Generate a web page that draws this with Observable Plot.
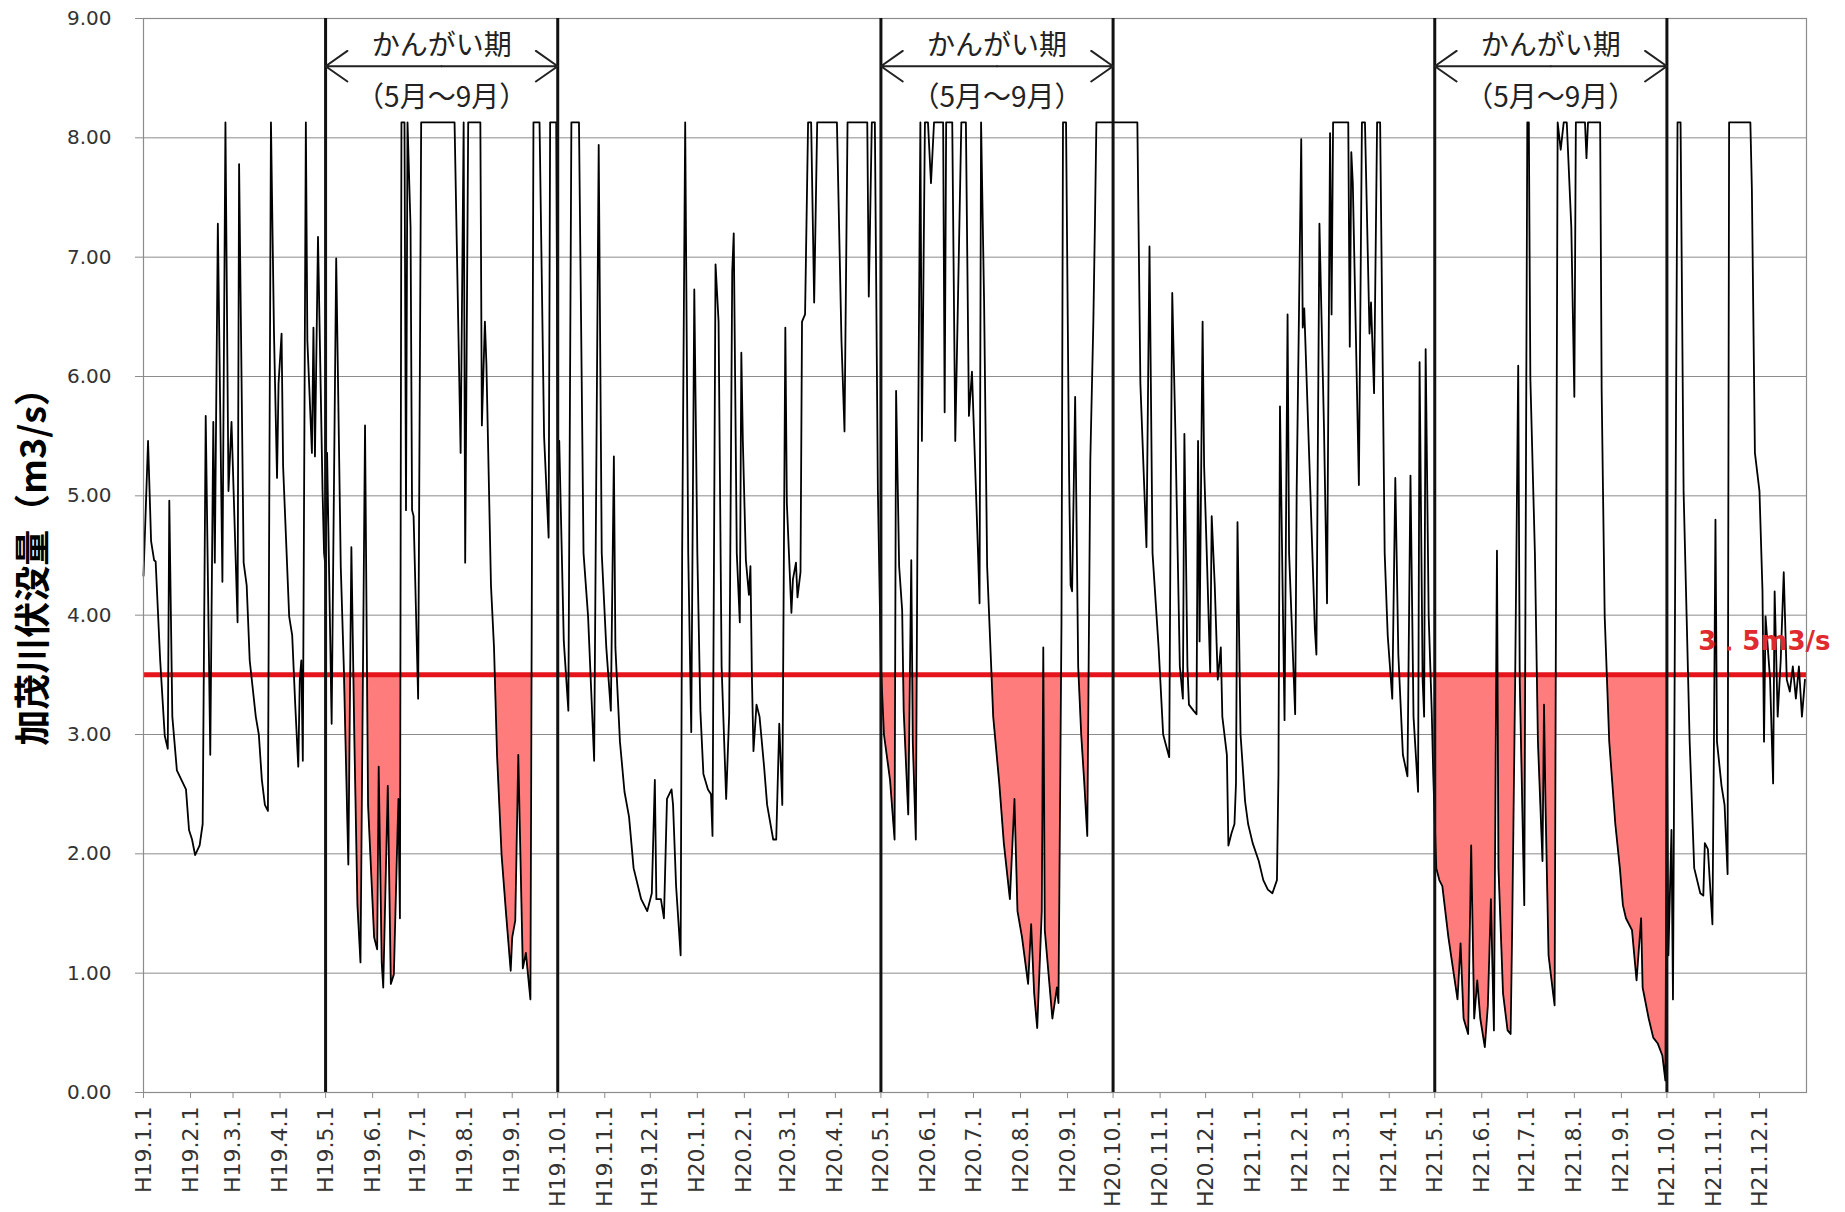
<!DOCTYPE html>
<html><head><meta charset="utf-8">
<script src="https://cdn.jsdelivr.net/npm/d3@7"></script>
<script src="https://cdn.jsdelivr.net/npm/@observablehq/plot@0.6"></script>
<style>
html,body{margin:0;padding:0;background:#fff;}
#chart{width:1845px;height:1212px;}
</style></head>
<body><div id="chart"></div>
<script>
// Day offsets from H19.1.1 (2007-01-01) and flow (m3/s)
const days = [
0,3,5,7,8,11,14,16,17,19,22,25,28,30,32,34,37,39,41,44,46,47,49,52,54,56,58,62,63,66,68,70,74,76,78,80,82,84,86,88,89,91,92,96,98,100,102,103,104,105,107,108,111,112,113,115,118,119,
120,121,124,125,127,130,132,135,137,139,141,143,146,148,152,154,155,157,158,161,163,165,167,168,169,170,172,173,174,176,177,178,179,181,183,205,209,211,212,214,222,223,225,226,229,231,233,236,239,242,243,245,247,250,252,255,257,261,264,267,268,272,
273,274,277,280,282,287,290,293,297,300,302,305,308,310,311,314,317,320,323,328,332,335,337,338,341,343,345,348,349,351,354,355,357,359,361,363,
365,367,369,372,374,375,377,379,381,384,386,388,389,391,393,394,395,397,399,400,401,402,404,406,409,411,415,417,419,421,423,424,427,428,430,431,433,434,436,438,440,442,444,457,460,462,464,477,478,480,482,484,
486,488,492,495,496,498,500,501,504,506,507,509,510,512,513,515,517,519,521,527,528,529,533,535,539,542,544,546,550,551,552,554,556,560,564,567,571,574,576,579,583,585,587,589,592,593,594,599,602,603,605,606,608,610,611,612,614,616,618,620,622,624,626,627,628,
655,657,661,663,665,669,672,676,677,678,680,683,685,686,688,689,692,694,695,696,698,699,701,703,704,706,708,710,711,714,715,717,719,720,721,723,726,728,
731,735,738,741,744,747,748,749,751,752,754,755,759,760,763,764,765,769,772,773,775,778,780,782,783,784,794,795,796,797,801,803,805,808,809,811,813,815,818,820,823,825,827,830,833,835,837,840,841,843,844,845,847,849,850,
852,854,856,860,863,866,868,870,873,875,877,879,881,884,886,888,890,892,893,896,899,901,902,904,906,907,910,912,913,914,917,919,922,923,924,926,929,930,932,934,936,938,941,943,944,950,951,952,960,961,963,966,970,973,975,977,981,984,987,988,992,995,998,1001,1003,
1004,1005,1007,1008,1011,1013,1015,1017,1019,1022,1026,1028,1029,1031,1033,1034,1035,1036,1037,1040,1042,1044,1045,1059,1060,1062,1065,1067,1068,1069,1072,1074,1075,1077,1079,1081,1083,1085,1087,1089,1091,1093,1095
];
const flow = [
4.33,5.46,4.62,4.46,4.45,3.62,2.99,2.88,4.96,3.15,2.70,2.62,2.54,2.20,2.12,1.99,2.07,2.25,5.67,2.83,5.62,4.44,7.28,4.28,8.13,5.04,5.62,3.94,7.78,4.44,4.25,3.62,3.15,3.00,2.62,2.41,2.36,8.13,6.36,5.15,5.94,6.36,5.25,3.99,3.83,3.25,2.73,3.46,3.62,2.78,8.13,6.30,5.36,6.41,5.33,7.17,5.04,4.52,
4.40,5.36,3.09,4.41,6.99,4.41,3.57,1.91,4.57,2.94,1.57,1.09,5.59,2.41,1.30,1.20,2.73,1.09,0.88,2.57,0.91,0.99,1.99,2.46,1.46,8.13,8.13,4.88,8.13,7.25,4.88,4.83,4.33,3.30,8.13,8.13,5.36,8.13,4.44,8.13,8.13,5.59,6.46,6.10,4.25,3.73,2.83,1.99,1.49,1.02,1.30,1.44,2.83,1.04,1.17,0.78,8.13,8.13,5.50,4.65,8.13,8.13,
5.36,5.46,3.78,3.20,8.13,8.13,4.52,3.99,2.78,7.94,4.52,3.73,3.20,5.33,3.73,2.94,2.52,2.31,1.88,1.62,1.52,1.67,2.62,1.62,1.62,1.46,2.46,2.54,2.41,1.73,1.15,4.52,8.13,4.52,3.02,6.73,
4.52,3.20,2.67,2.54,2.50,2.15,6.94,6.46,3.57,2.46,3.17,6.88,7.20,4.52,3.94,6.20,5.46,4.46,4.17,4.41,3.46,2.86,3.25,3.15,2.73,2.41,2.12,2.12,3.09,2.41,6.41,4.94,4.02,4.30,4.44,4.15,4.36,6.46,6.52,8.13,8.13,6.62,8.13,8.13,6.30,5.54,8.13,8.13,6.67,8.13,8.13,5.04,
3.57,3.00,2.62,2.12,5.88,4.41,4.04,3.20,2.33,4.46,2.94,2.12,4.52,8.13,5.46,8.13,8.13,7.62,8.13,8.13,5.70,8.13,8.13,5.46,8.13,8.13,5.67,6.04,4.52,4.10,8.13,6.62,4.41,3.15,2.59,2.09,1.62,2.46,1.52,1.30,0.91,1.41,0.83,0.54,1.52,3.73,1.36,0.62,0.88,0.75,3.94,8.13,8.13,5.20,4.25,4.20,5.83,3.57,3.00,2.60,2.15,5.30,6.46,7.25,8.13,
8.13,5.94,4.57,7.09,4.52,3.73,3.00,2.81,5.04,6.70,5.57,3.57,3.30,5.52,3.57,3.25,3.20,3.17,5.46,3.78,6.46,5.25,4.41,3.52,4.83,4.25,3.46,3.73,3.15,2.83,2.07,2.17,2.25,2.59,4.78,3.00,2.44,2.25,
2.09,1.94,1.78,1.70,1.67,1.78,2.67,5.75,3.99,3.12,6.52,4.52,3.17,5.04,7.99,6.41,6.57,5.04,3.88,3.67,7.28,5.57,4.10,8.04,6.52,8.13,8.13,6.25,7.88,7.62,5.09,8.13,8.13,6.36,6.62,5.86,8.13,8.13,4.52,3.83,3.30,5.15,3.67,2.83,2.65,5.17,3.15,2.52,6.12,3.46,3.15,6.23,3.99,3.20,2.67,
1.88,1.78,1.73,1.30,1.04,0.78,1.25,0.62,0.49,2.07,0.62,0.94,0.62,0.38,0.73,1.62,0.52,4.54,1.88,0.83,0.52,0.49,1.36,3.46,6.09,3.46,1.57,8.13,8.13,5.99,4.52,2.94,1.94,3.25,2.41,1.15,0.83,0.73,8.13,7.90,8.13,8.13,7.25,5.83,8.13,8.13,7.83,8.13,8.13,5.88,3.99,2.94,2.25,1.88,1.57,1.46,1.36,0.94,1.46,0.88,0.62,0.46,0.41,0.31,0.10,
3.00,1.15,2.20,0.78,8.13,8.13,5.04,3.99,2.94,1.88,1.67,1.65,2.09,2.04,1.62,1.41,2.94,4.80,2.94,2.57,2.41,1.83,8.13,8.13,7.57,5.36,5.04,4.20,2.94,3.99,3.46,2.59,4.20,3.15,3.62,4.36,3.46,3.36,3.57,3.30,3.57,3.15,3.46
];
// Irrigation periods (かんがい期, May–September)
const periodStart = ["2007-05-01", "2008-05-01", "2009-05-01"];
const periodEnd = ["2007-10-01", "2008-10-01", "2009-10-01"];
const threshold = 3.5;
const thresholdLabel = "3．5m3/s";
const periodLabel = "かんがい期";
const periodSubLabel = "（5月～9月）";
const yTicks = [0, 1, 2, 3, 4, 5, 6, 7, 8, 9];
const yLabel = "加茂川伏没量（m3/s）";

const base = Date.UTC(2007, 0, 1);
const data = days.map((d, i) => ({date: new Date(base + d * 86400000), value: flow[i]}));
const periods = periodStart.map((s, i) => {
  const a = new Date(s + "T00:00:00Z"), b = new Date(periodEnd[i] + "T00:00:00Z");
  return {start: a, end: b, mid: new Date((+a + +b) / 2)};
});
const monthTicks = d3.utcMonth.range(new Date(Date.UTC(2007,0,1)), new Date(Date.UTC(2010,0,1)));
const fmtX = d => `H${d.getUTCFullYear() - 1988}.${d.getUTCMonth() + 1}.1`;

const chart = Plot.plot({
  width: 1845, height: 1212,
  marginLeft: 143, marginRight: 39, marginTop: 18, marginBottom: 120,
  style: {fontFamily: "DejaVu Sans, sans-serif", background: "#fff", overflow: "visible"},
  x: {type: "utc", domain: [new Date(Date.UTC(2007,0,1)), new Date(Date.UTC(2010,0,1))], label: null},
  y: {domain: [0, 9], label: null},
  marks: [
    Plot.gridY(yTicks, {stroke: "#8c8c8c", strokeOpacity: 1, strokeWidth: 1}),
    Plot.areaY(data, {x: "date", y1: threshold, y2: "value", fill: "#ff7c7c", curve: "linear"}),
    Plot.ruleY([threshold], {stroke: "#e5151b", strokeWidth: 5}),
    Plot.line(data, {x: "date", y: "value", stroke: "#000", strokeWidth: 1.8, curve: "linear"}),
    Plot.frame({stroke: "#8c8c8c", strokeWidth: 1.2}),
    Plot.ruleX(periods.flatMap(p => [p.start, p.end]), {stroke: "#111", strokeWidth: 3}),
    Plot.arrow(periods, {x1: "mid", x2: "start", y1: 8.6, y2: 8.6, stroke: "#222", strokeWidth: 2, headLength: 20, headAngle: 70}),
    Plot.arrow(periods, {x1: "mid", x2: "end", y1: 8.6, y2: 8.6, stroke: "#222", strokeWidth: 2, headLength: 20, headAngle: 70}),
    Plot.text(periods, {x: "mid", y: 8.77, text: () => periodLabel, fontSize: 28, fill: "#222", fontFamily: "Noto Sans CJK JP"}),
    Plot.text(periods, {x: "mid", y: 8.33, text: () => periodSubLabel, fontSize: 28, fill: "#222", fontFamily: "Noto Sans CJK JP"}),
    Plot.text([thresholdLabel], {x: () => new Date(Date.UTC(2010,0,1)), y: threshold, text: d => d, dx: 24, dy: -33, textAnchor: "end", fill: "#df2a2e", fontSize: 26, fontWeight: "bold", fontFamily: "DejaVu Sans"}),
    Plot.text([yLabel], {frameAnchor: "left", y: 4.48, text: d => d, rotate: -90, dx: -109, textAnchor: "middle", fontSize: 36, fontWeight: "bold", fill: "#000", fontFamily: "Noto Sans CJK JP"}),
    Plot.axisY(yTicks, {tickFormat: d => d.toFixed(2), tickSize: 8, tickPadding: 24, fontSize: 20, stroke: "#8c8c8c", fill: "#333", label: null}),
    Plot.axisX(monthTicks, {tickFormat: fmtX, tickSize: 6, tickPadding: 8, tickRotate: -90, fontSize: 22, stroke: "#8c8c8c", fill: "#333", label: null})
  ]
});

// clip the red fill to the irrigation periods, below the threshold
const ns = "http://www.w3.org/2000/svg";
const xs = chart.scale("x"), ys = chart.scale("y");
const defs = document.createElementNS(ns, "defs");
const cp = document.createElementNS(ns, "clipPath");
cp.setAttribute("id", "irrigation-clip");
for (const p of periods) {
  const r = document.createElementNS(ns, "rect");
  const x0 = xs.apply(p.start), x1 = xs.apply(p.end);
  const y0 = ys.apply(threshold), y1 = ys.apply(0);
  r.setAttribute("x", x0); r.setAttribute("width", x1 - x0);
  r.setAttribute("y", y0); r.setAttribute("height", y1 - y0);
  cp.appendChild(r);
}
defs.appendChild(cp);
chart.insertBefore(defs, chart.firstChild);
const areaG = chart.querySelector('g[aria-label="area"]');
if (areaG) areaG.setAttribute("clip-path", "url(#irrigation-clip)");

document.getElementById("chart").appendChild(chart);
</script>
</body></html>
